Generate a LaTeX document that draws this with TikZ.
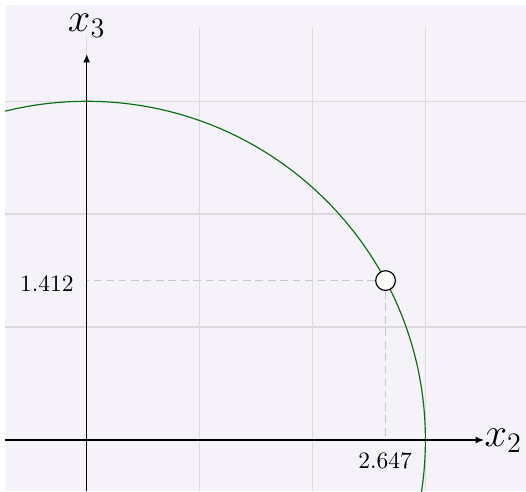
\documentclass[tikz,border=0pt]{standalone}
\usetikzlibrary{arrows.meta}
\definecolor{bgc}{HTML}{F5F2F9}
\definecolor{gridc}{HTML}{DCDADF}
\definecolor{dashc}{HTML}{C8C8CC}
\definecolor{circc}{HTML}{0A700F}
\tikzset{
  gridline/.style={draw=gridc, line width=0.65pt},
  axisline/.style={draw=black, line width=0.6pt, -{Latex[length=3.6pt,width=3pt]}},
  guide/.style={draw=dashc, line width=0.6pt, dash pattern=on 3.3pt off 2pt},
  ptmark/.style={circle, draw=black, fill=white, line width=0.5pt, minimum size=8.4pt, inner sep=0pt},
  valabel/.style={inner sep=0pt, font=\normalsize},
  axlabel/.style={inner sep=0pt, font=\LARGE}
}
\begin{document}
\begin{tikzpicture}[x=48.1pt,y=48.1pt]
\useasboundingbox (-0.768,-0.452) rectangle (3.891,3.897);
\fill[bgc] (-0.724,-0.452) rectangle (3.891,3.853);
\begin{scope}
\clip (-0.724,-0.452) rectangle (3.891,3.853);
% grid
\foreach \i in {1,2,3} {
  \draw[gridline] (-0.724,\i) -- (3.891,\i);
}
\draw[gridline] (0,-0.452) -- (0,3.578);
\foreach \i in {1,2,3} {
  \draw[gridline] (\i,-0.452) -- (\i,3.658);
}
% circle
\draw[circc, line width=0.5pt] (0,0) circle (3);
\end{scope}
% axes
\coordinate (xl) at (-0.724,0);
\coordinate (xr) at (3.52,0);
\coordinate (yb) at (0,-0.452);
\coordinate (yt) at (0,3.419);
\draw[axisline] (xl) -- (xr);
\draw[axisline] (yb) -- (yt);
\node[axlabel] (lx2) at (3.69,-0.01) {$x_2$};
\node[axlabel] (lx3) at (0,3.67) {$x_3$};
% point and guides
\node[ptmark] (P) at (2.647,1.412) {};
\coordinate (Px) at (2.647,0);
\coordinate (Py) at (0,1.412);
\draw[guide] (P.west) -- (Py);
\draw[guide] (P.south) -- (Px);
\node[valabel] (v1) at (-0.352,1.386) {$1.412$};
\node[valabel] (v2) at (2.643,-0.182) {$2.647$};
\end{tikzpicture}
\end{document}
